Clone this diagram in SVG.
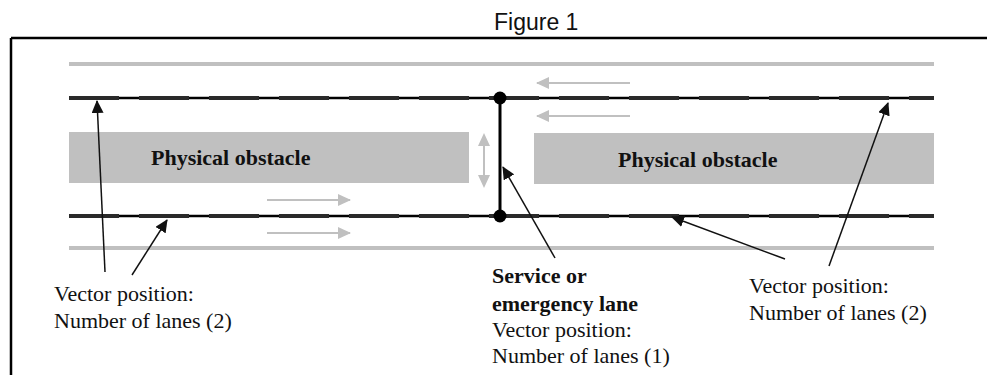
<svg xmlns="http://www.w3.org/2000/svg" width="987" height="375" viewBox="0 0 987 375">
  <style>
    .lbl { font-family: "Liberation Serif", "Times New Roman", serif; font-size: 22px; fill: #111; }
    .b { font-weight: bold; }
    .gray { stroke: #c0c0c0; stroke-width: 4; fill: none; }
    .garrow { stroke: #c0c0c0; stroke-width: 2; fill: none; }
    .obst { fill: #c0c0c0; }
    .lane { stroke: #000; stroke-width: 2.5; fill: none; }
    .dash { stroke: #2a2a2a; stroke-width: 4; stroke-dasharray: 50 20; fill: none; }
    .lead { stroke: #111; stroke-width: 1.5; fill: none; marker-end: url(#blk); }
  </style>
  <defs>
    <marker id="blk" markerUnits="userSpaceOnUse" markerWidth="14" markerHeight="12" refX="12" refY="6" orient="auto">
      <path d="M0,0 L13,6 L0,12 Z" fill="#111"/>
    </marker>
    <marker id="gry" markerUnits="userSpaceOnUse" markerWidth="14" markerHeight="12" refX="12" refY="6" orient="auto">
      <path d="M0,0 L13,6 L0,12 Z" fill="#c0c0c0"/>
    </marker>
  </defs>
  <rect width="987" height="375" fill="#fff"/>

  <g id="title">
    <text x="494" y="30" font-family="Liberation Sans, Arial, sans-serif" font-size="23" fill="#111">Figure 1</text>
  </g>

  <g id="frame">
    <path d="M11,38 H987 M11,38 V375" stroke="#000" stroke-width="2.5" fill="none"/>
  </g>

  <g id="road">
    <line class="gray" x1="69" y1="64" x2="934" y2="64"/>
    <line class="gray" x1="69" y1="248" x2="934" y2="248"/>
    <line class="lane" x1="69" y1="98" x2="934" y2="98"/>
    <line class="dash" x1="69" y1="98" x2="934" y2="98"/>
    <line class="lane" x1="69" y1="216" x2="934" y2="216"/>
    <line class="dash" x1="69" y1="216" x2="934" y2="216"/>
  </g>

  <g id="obstacle-left">
    <rect class="obst" x="69" y="132" width="400" height="51"/>
    <text class="lbl b" x="151" y="165">Physical obstacle</text>
  </g>

  <g id="obstacle-right">
    <rect class="obst" x="534" y="133" width="400" height="51"/>
    <text class="lbl b" x="618" y="167">Physical obstacle</text>
  </g>

  <g id="service-lane">
    <line x1="500" y1="98" x2="500" y2="216" stroke="#000" stroke-width="3"/>
    <circle cx="500" cy="98" r="6.5" fill="#000"/>
    <circle cx="500" cy="216" r="6.5" fill="#000"/>
  </g>

  <g id="traffic-arrows">
    <line class="garrow" x1="484" y1="145" x2="484" y2="176"/>
    <path d="M484,133 L478,146 L490,146 Z M484,188 L478,175 L490,175 Z" fill="#c0c0c0"/>
    <line class="garrow" x1="630" y1="83" x2="537" y2="83" marker-end="url(#gry)"/>
    <line class="garrow" x1="630" y1="116" x2="537" y2="116" marker-end="url(#gry)"/>
    <line class="garrow" x1="267" y1="200" x2="350" y2="200" marker-end="url(#gry)"/>
    <line class="garrow" x1="267" y1="233" x2="350" y2="233" marker-end="url(#gry)"/>
  </g>

  <g id="connectors">
    <line class="lead" x1="105" y1="272" x2="97" y2="101"/>
    <line class="lead" x1="132" y1="275" x2="167" y2="220"/>
    <line class="lead" x1="555" y1="258" x2="503" y2="167"/>
    <line class="lead" x1="785" y1="259" x2="672" y2="217"/>
    <line class="lead" x1="829" y1="266" x2="888" y2="103"/>
  </g>

  <g id="label-left">
    <text class="lbl" x="54" y="301">Vector position:</text>
    <text class="lbl" x="54" y="328">Number of lanes (2)</text>
  </g>

  <g id="label-center">
    <text class="lbl b" x="492" y="283">Service or</text>
    <text class="lbl b" x="492" y="311">emergency lane</text>
    <text class="lbl" x="492" y="337">Vector position:</text>
    <text class="lbl" x="492" y="363">Number of lanes (1)</text>
  </g>

  <g id="label-right">
    <text class="lbl" x="749" y="293">Vector position:</text>
    <text class="lbl" x="749" y="320">Number of lanes (2)</text>
  </g>
</svg>
